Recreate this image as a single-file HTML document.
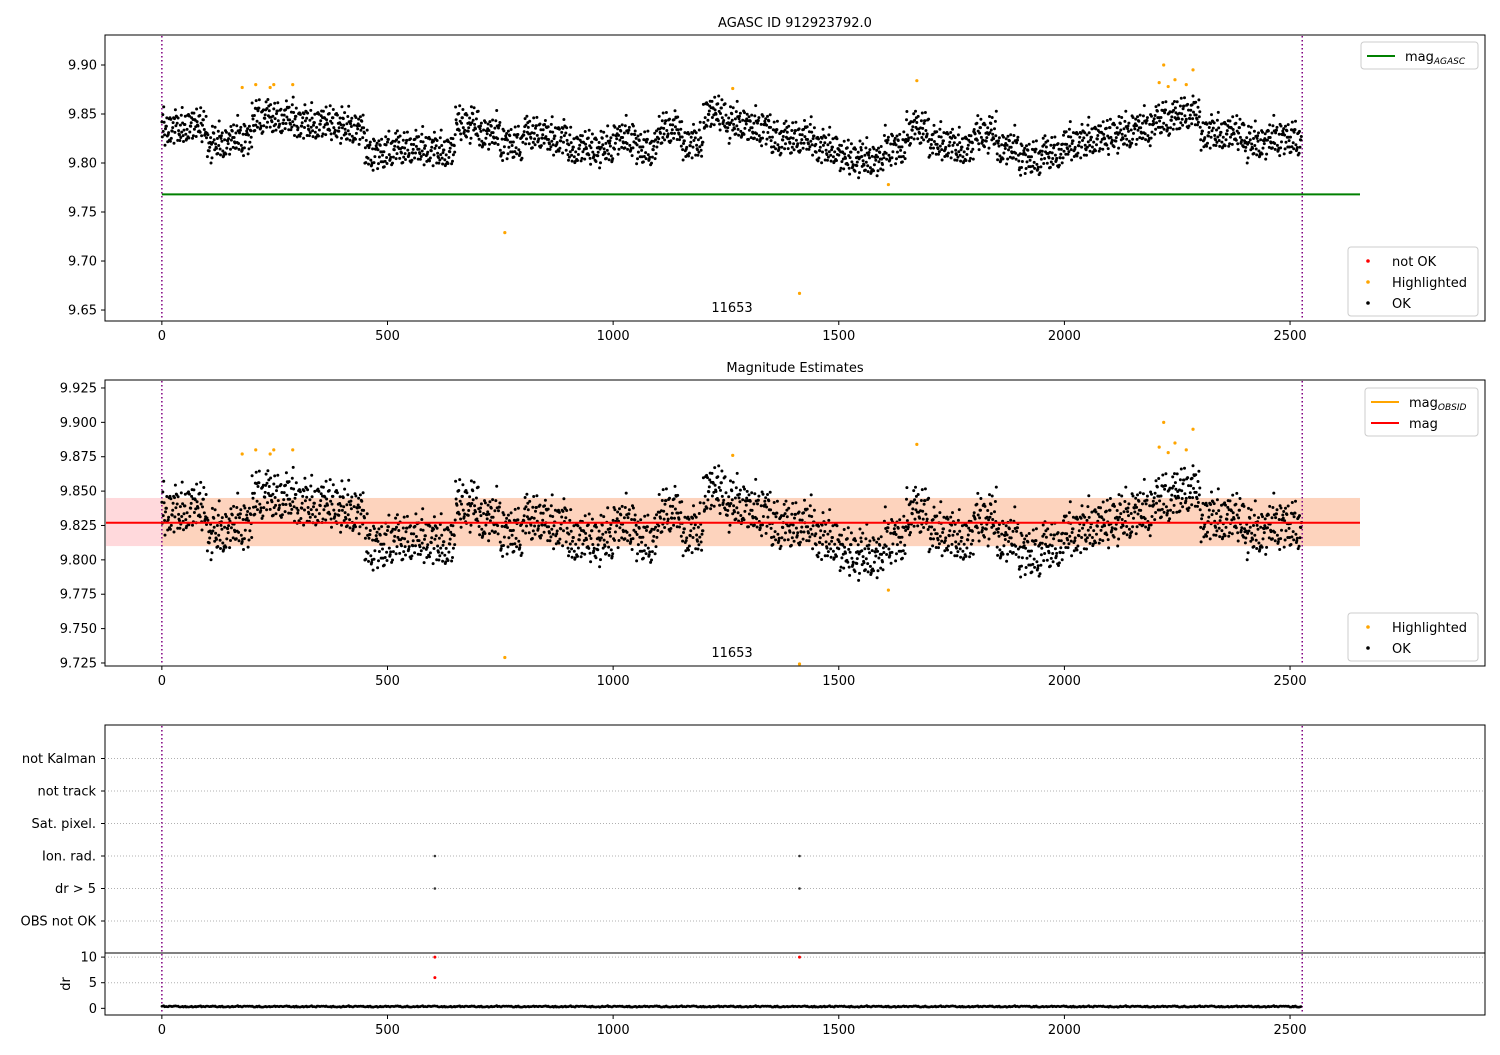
<!DOCTYPE html>
<html><head><meta charset="utf-8">
<style>
body{margin:0;background:#fff;font-family:"Liberation Sans","DejaVu Sans",sans-serif;}
svg text{font-family:"DejaVu Sans","Liberation Sans",sans-serif;font-size:13px;fill:#000}
</style></head><body>
<svg id="chart" width="1500" height="1050" xmlns="http://www.w3.org/2000/svg"></svg>
<script>
// ---- data ----
const segMeans=[9.835,9.838,9.82,9.825,9.847,9.845,9.84,9.84,9.835,9.81,9.815,9.815,9.812,9.84,9.83,9.82,9.83,9.825,9.815,9.815,9.825,9.815,9.835,9.82,9.85,9.84,9.835,9.825,9.825,9.815,9.805,9.803,9.815,9.835,9.82,9.815,9.83,9.815,9.805,9.81,9.82,9.825,9.83,9.835,9.845,9.85,9.83,9.83,9.82,9.825,9.825];
const segSize=50;
const nFrames=2526;
const jitter=[0.3,-1.1,0.8,-0.2,1.6,-0.7,0.1,-1.5,0.9,0.4,-0.4,1.2,-0.9,0.0,0.6,-1.8,1.0,-0.3,0.5,-1.2,1.4,-0.6,0.2,-0.1,0.7,-1.0,1.8,-0.5,0.3,-1.4,0.9,-0.8,0.1,1.1,-0.2,-1.6,0.6,0.4,-0.9,1.3,-0.4];
const spread=0.013;
const hiX=[178,208,240,248,290,760,1265,1413,1610,1673,2210,2220,2230,2245,2270,2285];
const hiY=[9.877,9.880,9.877,9.880,9.880,9.729,9.876,9.667,9.778,9.884,9.882,9.900,9.878,9.885,9.880,9.895];
const flagX=[605,1413];
const drFlagX=[605,605,1413];
const drFlagY=[10,6,10];
const agascMag=9.768, obsMag=9.827, bandLo=9.810, bandHi=9.845;
const categories=["OBS not OK","dr > 5","Ion. rad.","Sat. pixel.","not track","not Kalman"];
const xTicks=[0,500,1000,1500,2000,2500];
const y1Ticks=[9.65,9.70,9.75,9.80,9.85,9.90];
const y2Ticks=[9.725,9.750,9.775,9.800,9.825,9.850,9.875,9.900,9.925];
const drTicks=[0,5,10];

const NS="http://www.w3.org/2000/svg",svg=document.getElementById('chart');
function el(t,a,p){const e=document.createElementNS(NS,t);for(const k in a)e.setAttribute(k,a[k]);(p||svg).appendChild(e);return e;}
function txt(s,a,p){const e=el('text',a,p);e.textContent=s;return e;}
const X0=105,X1=1485,xmin=-126,xmax=2932;
const xs=v=>X0+(v-xmin)/(xmax-xmin)*(X1-X0);
function ys(t,b,lo,hi){return v=>b-(v-lo)/(hi-lo)*(b-t);}
const y1=ys(35,321,9.6388,9.9306), y2=ys(380,666,9.7228,9.9308);
const yc=i=>921-i*32.5, yd=ys(953,1015,-1.3,10.8);
const L=jitter.length;
function jit(i){return 0.55*jitter[i%L]+0.45*jitter[(i*29+11)%L]+0.35*jitter[(i*17+5)%L]+0.25*jitter[Math.floor(i/7)%L];}
function mval(i){return segMeans[Math.floor(i/segSize)]+jit(i)*spread;}

function frame(t,b,name,yt,yf,fmt){
  const g=el('g',{});
  el('rect',{x:X0,y:t,width:X1-X0,height:b-t,fill:'none',stroke:'#000','stroke-width':1},g);
  xTicks.forEach(v=>{el('line',{x1:xs(v),x2:xs(v),y1:b,y2:b+4,stroke:'#000'},g);txt(v,{x:xs(v),y:b+19,'text-anchor':'middle'},g);});
  if(yt)yt.forEach(v=>{el('line',{x1:X0-4,x2:X0,y1:yf(v),y2:yf(v),stroke:'#000'},g);txt(fmt(v),{x:X0-8,y:yf(v)+4.5,'text-anchor':'end'},g);});
  return g;
}
function vlines(t,b,g){[0,2527].forEach(v=>el('line',{x1:xs(v),x2:xs(v),y1:t,y2:b,stroke:'purple','stroke-width':1.5,'stroke-dasharray':'1.5,2.5'},g));}
function scatter(yf,t,b,g,name){
  const gg=el('g',{},g);
  for(let i=0;i<nFrames;i++){const v=mval(i),y=yf(v);if(y<t||y>b)continue;el('circle',{cx:xs(i).toFixed(1),cy:y.toFixed(1),r:1.5,fill:'#000'},gg);}
  const gh=el('g',{},g);
  hiX.forEach((x,k)=>{let y=yf(hiY[k]);if(y>b)y=b-1;if(y<t)return;el('circle',{cx:xs(x),cy:y,r:1.6,fill:'orange'},gh);});
}
function legend(x,y,w,items,g,name){
  const lg=el('g',{},g);
  el('rect',{x:x,y:y,width:w,height:items.length*21+6,rx:3,fill:'#fff',stroke:'#ccc'},lg);
  items.forEach((it,k)=>{const cy=y+14+k*21;
    if(it.line)el('line',{x1:x+6,x2:x+34,y1:cy,y2:cy,stroke:it.c,'stroke-width':2},lg);
    else el('circle',{cx:x+20,cy:cy,r:1.8,fill:it.c},lg);
    const tt=txt(it.t,{x:x+44,y:cy+5},lg);
    if(it.sub){const s=el('tspan',{'font-size':'9','dy':'3','font-style':'italic'},tt);s.textContent=it.sub;}
  });
}
// Panel 1
txt('AGASC ID 912923792.0',{x:795,y:27,'text-anchor':'middle','font-size':'16'});
const g1=frame(35,321,'agasc-panel',y1Ticks,y1,v=>v.toFixed(2));
vlines(36,320,g1);
el('line',{x1:xs(0),x2:xs(2655),y1:y1(agascMag),y2:y1(agascMag),stroke:'green','stroke-width':2},g1);
scatter(y1,36,320,g1,'ok-points-top');
txt('11653',{x:732,y:312,'text-anchor':'middle'},g1);
legend(1361,42,117,[{line:1,c:'green',t:'mag',sub:'AGASC'}],g1,'legend-agasc');
legend(1348,247,130,[{c:'red',t:'not OK'},{c:'orange',t:'Highlighted'},{c:'#000',t:'OK'}],g1,'legend-status-top');
// Panel 2
txt('Magnitude Estimates',{x:795,y:372,'text-anchor':'middle','font-size':'16'});
const g2=frame(380,666,'magnitude-panel',y2Ticks,y2,v=>v.toFixed(3));
el('rect',{x:X0+1,y:y2(bandHi),width:xs(2655)-X0-1,height:y2(bandLo)-y2(bandHi),fill:'#ffd9dc'},g2);
el('rect',{x:xs(0),y:y2(bandHi),width:xs(2655)-xs(0),height:y2(bandLo)-y2(bandHi),fill:'#fdd3bd'},g2);
vlines(381,665,g2);
scatter(y2,381,665,g2,'ok-points-mag');
el('line',{x1:X0+1,x2:xs(2655),y1:y2(obsMag),y2:y2(obsMag),stroke:'red','stroke-width':2},g2);
txt('11653',{x:732,y:657,'text-anchor':'middle'},g2);
legend(1365,388,113,[{line:1,c:'orange',t:'mag',sub:'OBSID'},{line:1,c:'red',t:'mag'}],g2,'legend-mag');
legend(1348,613,130,[{c:'orange',t:'Highlighted'},{c:'#000',t:'OK'}],g2,'legend-status-mag');
// Panel 3 flags
const g3=el('g',{});
el('rect',{x:X0,y:725,width:X1-X0,height:228,fill:'none',stroke:'#000'},g3);
categories.forEach((c,i)=>{const y=yc(i);el('line',{x1:X0,x2:X1,y1:y,y2:y,stroke:'#b0b0b0','stroke-dasharray':'1,2'},g3);
  el('line',{x1:X0-4,x2:X0,y1:y,y2:y,stroke:'#000'},g3);txt(c,{x:X0-9,y:y+4.5,'text-anchor':'end'},g3);});
vlines(726,953,g3);
flagX.forEach(x=>[1,2].forEach(i=>el('circle',{cx:xs(x),cy:yc(i),r:1.3,fill:'#333'},g3)));
// dr panel
const g4=frame(953,1015,'dr-panel',drTicks,yd,v=>v);
[5,10].forEach(v=>el('line',{x1:X0,x2:X1,y1:yd(v),y2:yd(v),stroke:'#b0b0b0','stroke-dasharray':'1,2'},g4));
vlines(954,1014,g4);
txt('dr',{x:0,y:0,'text-anchor':'middle',transform:'translate(70,984) rotate(-90)'},g4);
for(let i=0;i<nFrames;i+=2){el('circle',{cx:xs(i).toFixed(1),cy:(yd(0.35+0.1*jit(i))).toFixed(1),r:1.3,fill:'#000'},g4);}
drFlagX.forEach((x,k)=>el('circle',{cx:xs(x),cy:yd(drFlagY[k]),r:1.5,fill:'red'},g4));
</script>
</body></html>
